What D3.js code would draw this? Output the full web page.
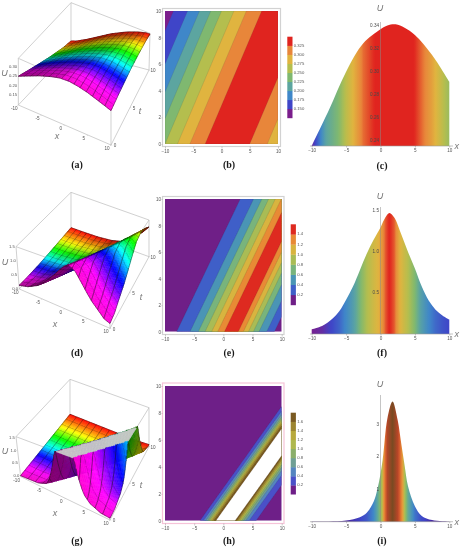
<!DOCTYPE html>
<html><head><meta charset="utf-8">
<style>html,body{margin:0;padding:0;background:#fff}svg{display:block;filter:blur(0.35px)}</style>
<script src="https://cdn.jsdelivr.net/npm/d3@7"></script></head><body>
<script>
// ---------- values ----------
// wave profiles U(xi), xi = x - speed*t
const xiA=[-26,-22,-18.5,-16,-13.9,-11.9,-10,-7.8,-5.6,-2.9,-1,1.05,3,5,8.1,11,14];
const uA =[.105,.13,.15,.175,.2,.225,.25,.275,.3,.325,.338,.342,.336,.325,.3,.275,.25];
const speedA=1.0;
const xiD=[-26,-18,-14,-10.5,-8,-5.71,-4.29,-3.14,-2,-.97,.17,1.37,2.57,3.43,4.29,5.14,6.1,7.43,8.74,11,15];
const uD =[.003,.012,.03,.09,.2,.4,.6,.8,1,1.2,1.4,1.5,1.4,1.2,1,.8,.6,.4,.2,.08,.02];
const speedD=1.09;
const xiG=[-30,-10,-6,-4,-3.43,-3.03,-2.69,-2.4,-2.17,-1.94,-1.66,-1.26,-.9,.37,1.6,2,2.29,2.57,2.8,3.09,3.43,3.83,4.4,5.6,8,12,20];
const uG =[0,.01,.06,.2,.4,.6,.8,1,1.2,1.4,1.6,1.8,2.4,3.73,2.4,1.8,1.6,1.4,1.2,1,.8,.6,.4,.2,.05,.01,0];
const speedG=1.65;
// snapshot profiles
const xC=[-10,-7.5,-5,-2.5,0,1,2.2,3.5,5,7.5,10];
const uC=[.2354,.2668,.3002,.3249,.3371,.3405,.3415,.3385,.3322,.3147,.2914];
const xF=[-10,-8.5,-7,-6,-5,-4,-3,-2,-1,0,.7,1.3,2,3,4,5,6,7,8,9,10];
const uF=[.06,.1,.19,.28,.42,.58,.78,.98,1.15,1.3,1.42,1.475,1.42,1.22,1,.8,.58,.41,.3,.23,.18];
const xI=[-10,-7.5,-5,-3,-2,-1,-.4,.3,1,1.75,2.5,3,3.5,4,5,6,7.5,10];
const uI=[.003,.01,.04,.14,.28,.62,1.05,1.9,3.2,3.73,3.15,2.45,1.75,1.1,.48,.18,.05,.005];
// contour levels and legend labels
const levelsB=[.15,.175,.2,.225,.25,.275,.3,.325];
const legendB=["0.150","0.175","0.200","0.225","0.250","0.275","0.300","0.325"];
const levelsE=[.2,.4,.6,.8,1,1.2,1.4];
const legendE=["0.2","0.4","0.6","0.8","1.0","1.2","1.4"];
const levelsH=[.2,.4,.6,.8,1,1.2,1.4,1.6];
const legendH=["0.2","0.4","0.6","0.8","1.0","1.2","1.4","1.6"];
const whiteAboveH=1.8;
// colours
const coloursB=["#7b1e8c","#3f45c8","#3f87c9","#5ca5a0","#7fb870","#b4be4e","#e0b43f","#e8863a","#e0241f"];
const coloursE=["#6f1f87","#3f5fc8","#4a95b5","#78b47c","#a9bc55","#d8b43f","#e88a35","#de2a20"];
const coloursH=["#6e1f88","#4a50c8","#5585c0","#6f9f95","#8aae6a","#aeb84e","#b8a93c","#9c8530","#7a5a22"];
const coloursI=["#4a1d90","#3f45c8","#3f87c9","#5ca5a0","#7fb870","#b4be4e","#ee9a38","#c8452a","#7a4a22"];
const rampC=[.233,.242,.252,.262,.285,.298,.31,.322,.333];
const rampF=[.05,.18,.4,.65,.8,1,1.25,1.38,1.47];
const rampI=[.01,.15,.6,1,1.4,1.8,2.2,3,3.7];
const hueT=[0,1.5,3.5,5,6.5,8,10];
const hueV=[310,300,240,180,120,60,0];
const xTicks=[-10,-5,0,5,10];
const tTicks3d=[0,5,10];
const tTicks2d=[0,2,4,6,8,10];

const W=461,H=550;
const svg=d3.select("body").append("svg").attr("width",W).attr("height",H).attr("viewBox",[0,0,W,H]);
const defs=svg.append("defs");
const ink="#555", boxC="#bcbcbc";
const sans="'Liberation Sans',Arial,sans-serif";
const lab={style:"italic",size:9,fill:"#777"};

const waveOf=(xs,us)=>d3.scaleLinear().domain(xs).range(us).clamp(true);
const waveA=waveOf(xiA,uA),waveD=waveOf(xiD,uD),waveG=waveOf(xiG,uG);
const hueScale=d3.scaleLinear().domain(hueT).range(hueV).interpolate(d3.interpolateNumber);

function txt(g,x,y,s,o={}){
  return g.append("text").attr("x",x).attr("y",y).text(s)
    .attr("text-anchor",o.anchor||"middle").attr("dominant-baseline","middle")
    .attr("font-family",o.family||sans).attr("font-size",o.size||4.6)
    .attr("font-style",o.style||null).attr("font-weight",o.weight||null)
    .attr("fill",o.fill||ink);
}

// ---------- 3D surfaces ----------
function surface(o){
  const g=svg.append("g");
  const c=o.corners; // zoom-crop units (3x), relative to dy
  const P=(k)=>[c[k][0]/3,c[k][1]/3+o.dy];
  const sx=d3.scaleLinear().domain([-10,10]).range([0,1]);
  const st=d3.scaleLinear().domain([0,10]).range([0,1]);
  const su=d3.scaleLinear().domain(o.uRange).range([0,1]);
  const lerp=(a,b,f)=>[a[0]+(b[0]-a[0])*f,a[1]+(b[1]-a[1])*f];
  const proj=(x,t,u)=>{
    const a=sx(x),b=st(t),h=su(u);
    const bot=lerp(lerp(P("LB"),P("FB"),a),lerp(P("BB"),P("RB"),a),b);
    const top=lerp(lerp(P("LT"),P("FT"),a),lerp(P("BT"),P("RT"),a),b);
    return lerp(bot,top,h);
  };
  const edge=(a,b,w)=>g.append("line").attr("x1",a[0]).attr("y1",a[1]).attr("x2",b[0]).attr("y2",b[1])
     .attr("stroke",boxC).attr("stroke-width",w||.7);
  [["LB","BB"],["BB","RB"],["BB","BT"],["LT","FT"],["FT","RT"],["LT","BT"],["BT","RT"],["LT","LB"],["RT","RB"],["LB","FB"],["FB","RB"],["FT","FB"]]
    .forEach(e=>edge(P(e[0]),P(e[1])));

  const N=o.res, mesh=o.mesh, U=o.uRange[1], uSpan=o.uRange[1]-o.uRange[0];
  const xs=d3.range(N+1).map(i=>-10+20*i/N), ts=d3.range(N+1).map(j=>10*j/N);
  const val=(x,t)=>o.wave(x-o.speed*t);
  const L=[.62,-.3,.72];
  const items=[];
  const line=d3.line();
  for(let i=0;i<N;i++) for(let j=N-1;j>=0;j--){
    const x0=xs[i],x1=xs[i+1],t0=ts[j],t1=ts[j+1];
    const v=[val(x0,t0),val(x1,t0),val(x1,t1),val(x0,t1)];
    const clip=v.map(u=>Math.max(o.uRange[0],Math.min(U,u)));
    const pts=[proj(x0,t0,clip[0]),proj(x1,t0,clip[1]),proj(x1,t1,clip[2]),proj(x0,t1,clip[3])];
    const capped=v.every(u=>u>=U);
    let fill;
    if(capped) fill="#cbcbcb";
    else{
      const sX=((v[1]+v[2])-(v[0]+v[3]))/2/uSpan*o.relief*N;
      const sT=((v[2]+v[3])-(v[0]+v[1]))/2/uSpan*o.relief*N;
      const nl=Math.hypot(sX,sT,1);
      const dot=(-sX*L[0]-sT*L[1]+L[2])/nl/L[2];
      const shade=Math.max(o.minShade,Math.min(1,.3+.7*dot));
      const col=d3.rgb(d3.hsl(hueScale((t0+t1)/2),1,.5));
      fill=d3.rgb(col.r*shade,col.g*shade,col.b*shade).formatHex();
    }
    items.push({d:line(pts)+"Z",fill,stroke:fill,sw:.45});
    if(!capped){
      const segs=[];
      if(i%mesh===0) segs.push([pts[0],pts[3]]);
      if(j%mesh===0) segs.push([pts[0],pts[1]]);
      if(i===N-1) segs.push([pts[1],pts[2]]);
      if(j===N-1) segs.push([pts[3],pts[2]]);
      if(segs.length) items.push({d:segs.map(s=>line(s)).join(""),fill:"none",stroke:"#151515",sw:o.meshW});
    }
  }
  g.append("g").selectAll("path").data(items).join("path")
    .attr("d",d=>d.d).attr("fill",d=>d.fill).attr("stroke",d=>d.stroke).attr("stroke-width",d=>d.sw)
    .attr("stroke-linejoin","round");

  // tick labels
  xTicks.forEach(v=>{const p=proj(v,0,o.uRange[0]);txt(g,p[0]-4,p[1]+3.7,v);
    edge(p,[p[0]-1,p[1]+1],.5);});
  tTicks3d.forEach(v=>{const p=proj(10,v,o.uRange[0]);txt(g,p[0]+4,p[1]+1,v);
    edge(p,[p[0]+1.2,p[1]+.3],.5);});
  o.uTicks.forEach((v,k)=>{const p=proj(-10,0,v);txt(g,p[0]-1.2,p[1],o.uLabels[k],{anchor:"end",size:4.2});});
  txt(g,o.uPos[0],o.uPos[1]+o.dy,"U",lab);
  txt(g,o.xPos[0],o.xPos[1]+o.dy,"x",lab);
  txt(g,o.tPos[0],o.tPos[1]+o.dy,"t",lab);
}
surface({dy:0,wave:waveA,speed:speedA,uRange:[.097,.345],res:60,mesh:4,meshW:.5,relief:.45,minShade:.55,
  corners:{LB:[55,315],FB:[333,435],BB:[213,148],RB:[447,210],LT:[55,175],FT:[333,298],BT:[213,8],RT:[450,100]},
  uTicks:[.15,.2,.25,.3],uLabels:["0.15","0.20","0.25","0.30"],uPos:[4.5,74],xPos:[57,137],tPos:[140,112]});
surface({dy:185,wave:waveD,speed:speedD,uRange:[-.02,1.5],res:60,mesh:4,meshW:.5,relief:.6,minShade:.5,
  corners:{LB:[58,312],FB:[330,430],BB:[213,130],RB:[447,215],LT:[48,185],FT:[328,285],BT:[213,22],RT:[447,105]},
  uTicks:[0,.5,1,1.5],uLabels:["0.0","0.5","1.0","1.5"],uPos:[5,78],xPos:[55,140],tPos:[141,113]});
surface({dy:365,wave:waveG,speed:speedG,uRange:[-.03,1.55],res:72,mesh:6,meshW:.5,relief:.3,minShade:.5,
  corners:{LB:[62,335],FB:[330,465],BB:[210,150],RB:[447,245],LT:[48,215],FT:[328,320],BT:[210,43],RT:[447,128]},
  uTicks:[0,.5,1,1.5],uLabels:["0.0","0.5","1.0","1.5"],uPos:[5,87],xPos:[55,149],tPos:[141,121]});

// ---------- contour panels ----------
let cid=0;
function contourPanel(o){
  const g=svg.append("g");
  const x=d3.scaleLinear().domain([-10,10]).range([o.x0,o.x1]);
  const y=d3.scaleLinear().domain([0,10]).range([o.y0,o.y1]);
  const nx=240,nt=200;
  const vals=new Float64Array(nx*nt);
  for(let j=0;j<nt;j++)for(let i=0;i<nx;i++){
    const xx=-10+20*(i+.5)/nx, tt=10*(j+.5)/nt;
    vals[j*nx+i]=o.wave(xx-o.speed*tt);
  }
  const id="clip"+(++cid);
  defs.append("clipPath").attr("id",id).append("rect")
    .attr("x",o.x0).attr("y",o.y1).attr("width",o.x1-o.x0).attr("height",o.y0-o.y1);
  const gx=d3.scaleLinear().domain([0,nx]).range([o.x0,o.x1]);
  const gy=d3.scaleLinear().domain([0,nt]).range([o.y0,o.y1]);
  const path=d3.geoPath(d3.geoTransform({point(a,b){this.stream.point(gx(a),gy(b));}}));
  const thresholds=o.levels.concat(o.whiteAbove?[o.whiteAbove]:[]);
  const fills=o.colours.slice(1).concat(o.whiteAbove?["#fff"]:[]);
  const contours=d3.contours().size([nx,nt]).smooth(true).thresholds(thresholds)(vals);
  const pg=g.append("g").attr("clip-path",`url(#${id})`);
  pg.append("rect").attr("x",o.x0).attr("y",o.y1).attr("width",o.x1-o.x0).attr("height",o.y0-o.y1).attr("fill",o.colours[0]);
  pg.selectAll("path").data(contours).join("path").attr("d",path).attr("fill",(d,i)=>fills[i])
    .attr("stroke","#4a4a4a").attr("stroke-opacity",.35).attr("stroke-width",.4);
  // frame
  g.append("rect").attr("x",o.fx0).attr("y",o.fy0).attr("width",o.fx1-o.fx0).attr("height",o.fy1-o.fy0)
    .attr("fill","none").attr("stroke",o.frame||"#d2d2d2").attr("stroke-width",1.2);
  const fb=d3.scaleLinear().domain([-10,10]).range([o.x0,o.x1]);
  const ax=g.append("g").attr("transform",`translate(0,${o.fy1})`)
    .call(d3.axisBottom(fb).tickValues(xTicks).tickSize(2).tickPadding(1).tickFormat(d3.format("d")));
  const ay=g.append("g").attr("transform",`translate(${o.fx0},0)`)
    .call(d3.axisLeft(y).tickValues(tTicks2d).tickSize(1).tickPadding(.5).tickFormat(d3.format("d")));
  [ax,ay].forEach(a=>{a.select(".domain").remove();a.selectAll("line").attr("stroke","#999").attr("stroke-width",.5);
    a.selectAll("text").attr("font-family",sans).attr("font-size",4.6).attr("fill",ink);});
  // legend
  const n=o.colours.length;
  const ly=d3.scaleLinear().domain([0,n]).range([o.ly1,o.ly0]);
  o.colours.forEach((c,i)=>g.append("rect").attr("x",o.lx).attr("y",ly(i+1)).attr("width",5.2).attr("height",ly(i)-ly(i+1)+.2).attr("fill",c));
  o.legend.forEach((s,i)=>txt(g,o.lx+6.5,ly(i+1),s,{anchor:"start",size:4.2}));
}
contourPanel({wave:waveA,speed:speedA,levels:levelsB,colours:coloursB,legend:legendB,
  x0:165,x1:278,y0:144,y1:11,fx0:162.5,fx1:280.5,fy0:8.5,fy1:146.5,lx:287.3,ly0:36.7,ly1:118});
contourPanel({wave:waveD,speed:speedD,levels:levelsE,colours:coloursE,legend:legendE,
  x0:165,x1:281.7,y0:331.7,y1:199,fx0:162.5,fx1:284,fy0:196.5,fy1:334.5,lx:290.7,ly0:224.3,ly1:305});
contourPanel({wave:waveG,speed:speedG,levels:levelsH,colours:coloursH,legend:legendH,whiteAbove:whiteAboveH,
  x0:165,x1:281.7,y0:520.7,y1:386,fx0:162.5,fx1:284,fy0:383,fy1:523.5,lx:290.7,ly0:412.7,ly1:494.3,frame:"#f6c3d8"});

// ---------- filled profile panels ----------
function profile(o){
  const g=svg.append("g");
  const x=d3.scaleLinear().domain([-10,10]).range([311.7,449.3]);
  const y=d3.scaleLinear().domain(o.yDomain).range(o.yRange);
  const ramp=d3.scaleLinear().domain(o.ramp).range(o.colours).clamp(true);
  const lookup=d3.scaleLinear().domain(o.xs).range(o.us);
  const id="grad"+(++cid);
  const gr=defs.append("linearGradient").attr("id",id).attr("gradientUnits","userSpaceOnUse")
    .attr("x1",x(-10)).attr("x2",x(10)).attr("y1",0).attr("y2",0);
  d3.range(-10,10.01,.25).forEach(v=>gr.append("stop").attr("offset",(v+10)/20).attr("stop-color",ramp(lookup(v))));
  const pts=o.xs.map((v,i)=>[v,o.us[i]]);
  g.append("path").datum(pts)
    .attr("d",d3.area().x(d=>x(d[0])).y0(o.base).y1(d=>y(d[1])).curve(d3.curveCatmullRom.alpha(.5)))
    .attr("fill",`url(#${id})`);
  const ax=g.append("g").attr("transform",`translate(0,${o.base})`)
    .call(d3.axisBottom(x).tickValues(xTicks).tickSize(1.5).tickPadding(1.5).tickFormat(d3.format("d")));
  ax.select(".domain").remove();
  g.append("line").attr("x1",310).attr("x2",453).attr("y1",o.base).attr("y2",o.base).attr("stroke","#9a9a9a").attr("stroke-width",.6);
  const x0=x(0);
  g.append("line").attr("x1",x0).attr("x2",x0).attr("y1",o.axisTop).attr("y2",o.base).attr("stroke","#8a8a8a").attr("stroke-width",.5);
  ax.selectAll("line").attr("stroke","#888").attr("stroke-width",.5);
  ax.selectAll("text").attr("font-family",sans).attr("font-size",4.6).attr("fill",ink);
  o.uTicks.forEach((v,i)=>{txt(g,x0-1.5,y(v),o.uLabels[i],{anchor:"end",fill:"#4a4a4a"});});
  txt(g,380,o.uLabelY,"U",lab);
  txt(g,456.7,o.base+.5,"x",lab);
}
profile({xs:xC,us:uC,ramp:rampC,colours:coloursB,yDomain:[.24,.34],yRange:[140.7,26],base:146,axisTop:22,
  uTicks:[.24,.26,.28,.3,.32,.34],uLabels:["0.24","0.26","0.28","0.30","0.32","0.34"],uLabelY:9});
profile({xs:xF,us:uF,ramp:rampF,colours:coloursB,yDomain:[0,1.5],yRange:[334.3,211],base:334,axisTop:207,
  uTicks:[.5,1,1.5],uLabels:["0.5","1.0","1.5"],uLabelY:197});
profile({xs:xI,us:uI,ramp:rampI,colours:coloursI,yDomain:[0,3],yRange:[521.7,425],base:521.7,axisTop:395,
  uTicks:[1,2,3],uLabels:["1","2","3"],uLabelY:385});

// ---------- captions ----------
const captions=[["(a)",77,166],["(b)",229,166],["(c)",382,167],["(d)",77,354],["(e)",229,354],["(f)",382,354],["(g)",77,542],["(h)",229,542],["(i)",382,542]];
captions.forEach(c=>{
  txt(svg,c[1],c[2],c[0],{family:"'Liberation Serif',serif",size:10,weight:"bold",fill:"#1a1a1a"});
});
</script></body></html>
